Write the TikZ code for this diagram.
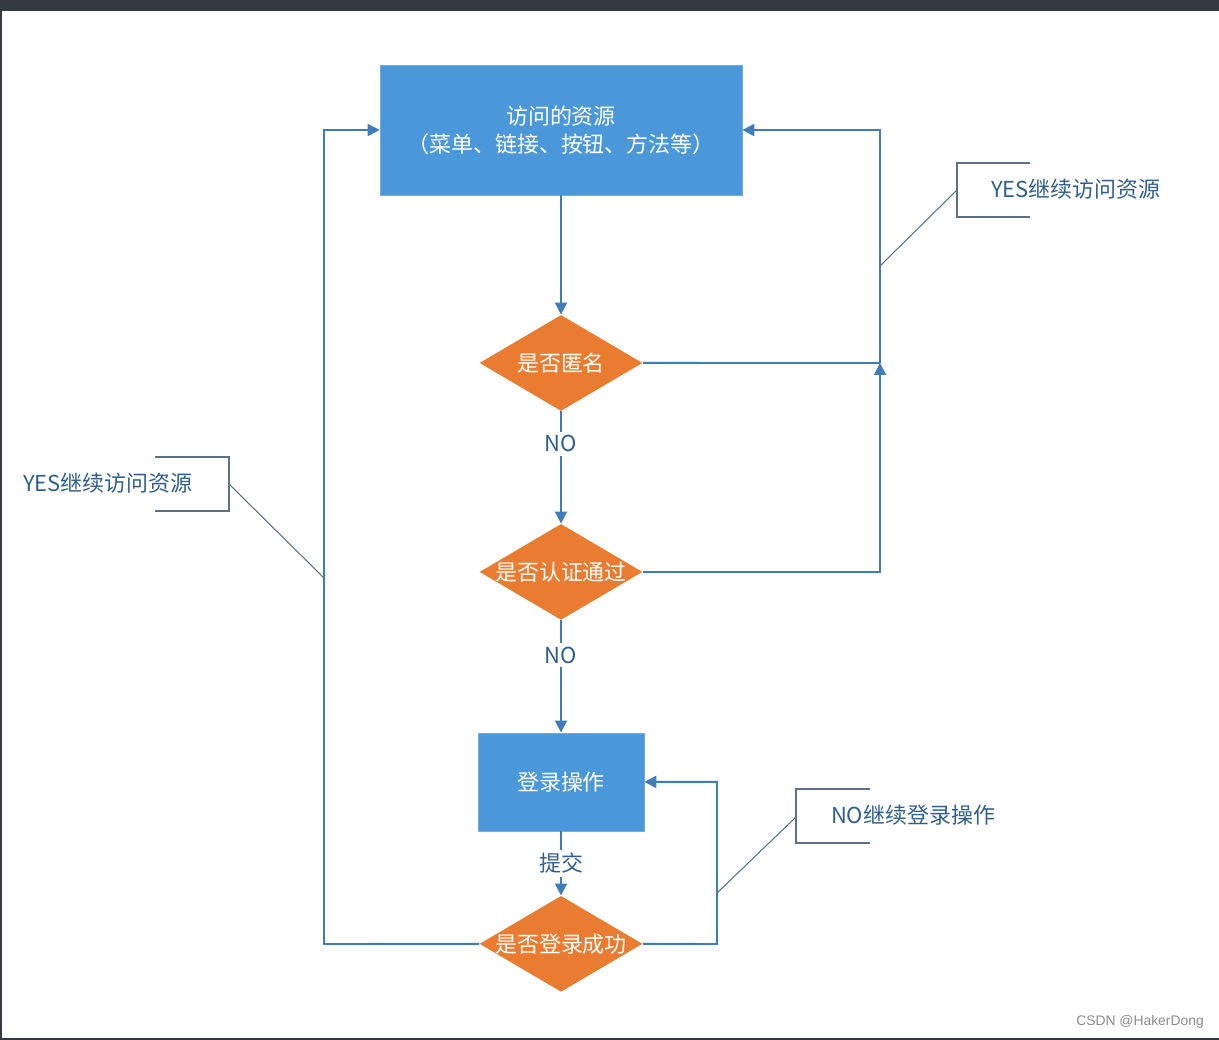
\documentclass[tikz,border=0pt]{standalone}
\usepackage{fontspec}
\usepackage{xcolor}
\usepackage{tikz}
\usetikzlibrary{positioning,shapes.geometric,arrows.meta}
\newfontfamily\cjk{Noto Sans CJK SC}
\setsansfont{Liberation Sans}
\definecolor{boxBlue}{HTML}{4A98DA}
\definecolor{decOrange}{HTML}{E97C31}
\definecolor{lineBlue}{HTML}{3F7DBA}
\definecolor{noteGrey}{HTML}{5B7186}
\definecolor{noteText}{HTML}{2F5F8F}
\definecolor{barGrey}{HTML}{343A40}

\begin{document}
\begin{tikzpicture}[
        x=0.02cm, y=0.02cm,
        node distance=4.2cm,
        font=\cjk\fontsize{12.5}{16}\selectfont,
        actionNode/.style={rectangle, fill=boxBlue, draw=boxBlue!80, text=white,
        align=center, inner sep=0pt},
        decisionNode/.style={diamond, fill=decOrange, text=white, inner sep=0pt,
        minimum width=3.26cm, minimum height=1.92cm},
        flow/.style={draw=lineBlue, line width=1.1pt, -{Triangle[length=2.4mm,width=2.4mm]}},
        link/.style={draw=lineBlue, line width=1.1pt},
        edgeLabel/.style={fill=white, text=noteText, inner sep=2pt},
        noteLine/.style={draw=noteGrey, line width=0.9pt},
        noteNode/.style={text=noteText, inner sep=0pt},
    ]
    \useasboundingbox (0,0) rectangle (1219,-1040);
    % screenshot frame
    \fill[barGrey] (0,0) rectangle (1219,-11);
    \fill[barGrey] (0,-11) rectangle (2,-1040);
    \fill[barGrey] (0,-1038) rectangle (1219,-1040);

    \node[actionNode, minimum width=7.24cm, minimum height=2.6cm] (resource) at (561,-130)
        {访问的资源\\（菜单、链接、按钮、方法等）};
    \node[decisionNode] (isAnon)  [below of=resource, node distance=4.66cm] {\makebox[0pt]{是否匿名}};
    \node[decisionNode] (isAuth)  [below of=isAnon, node distance=4.18cm]   {\makebox[0pt]{是否认证通过}};
    \node[actionNode, minimum width=3.32cm, minimum height=1.96cm] (login)
        [below of=isAuth]                                                   {登录操作};
    \node[decisionNode] (isOk)    [below of=login, node distance=3.24cm]    {\makebox[0pt]{是否登录成功}};

    \draw[flow] (resource) -- (isAnon);
    \draw[flow] (isAnon) -- node[edgeLabel, pos=0.29] {NO} (isAuth);
    \draw[flow] (isAuth) -- node[edgeLabel, pos=0.31] {NO} (login);
    \draw[flow] (login)  -- node[edgeLabel] {提交} (isOk);

    % YES loops
    \coordinate (rightJoin) at (880,-363);
    \coordinate (leftTurn)  at (324,-944);
    \coordinate (loopTurn)  at (717,-944);
    \draw[flow] (isAuth.east) -| (rightJoin);
    \draw[flow] (rightJoin) |- (resource.east);
    \draw[link] (isAnon.east) -- (rightJoin);
    \draw[flow] (isOk.west) -- (leftTurn) |- (resource.west);
    \draw[flow] (isOk.east) -- (loopTurn) |- (login.east);

    % notes
    \node[noteNode] (yesRight) at (1076,-189) {YES继续访问资源};
    \node[noteNode] (yesLeft)  at (108,-483)  {YES继续访问资源};
    \node[noteNode] (noLogin)  at (913,-815)  {NO继续登录操作};
    \draw[noteLine] (1030,-163) -- (957,-163) -- (957,-217) -- (1030,-217);
    \draw[noteLine] (155,-457) -- (229,-457) -- (229,-511) -- (155,-511);
    \draw[noteLine] (870,-789) -- (796,-789) -- (796,-843) -- (870,-843);
    \coordinate (yesRightTip) at (879,-267);
    \coordinate (yesLeftTip)  at (324,-578);
    \coordinate (noLoginTip)  at (717,-893);
    \draw[noteGrey, line width=0.6pt] (957,-190) -- (yesRightTip);
    \draw[noteGrey, line width=0.6pt] (229,-484) -- (yesLeftTip);
    \draw[noteGrey, line width=0.6pt] (796,-817) -- (noLoginTip);

    \node[text=black!45, font=\sffamily\fontsize{7.9}{10}\selectfont] (mark) at (1140,-1022) {CSDN @HakerDong};
\end{tikzpicture}
\end{document}
